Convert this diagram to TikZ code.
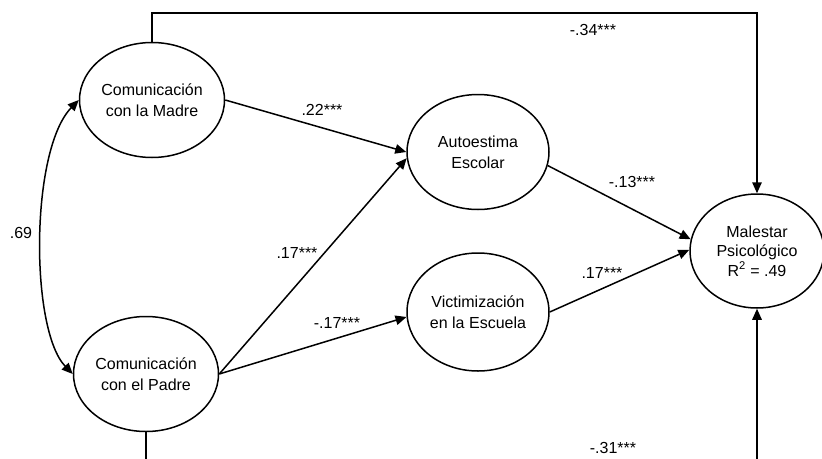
\documentclass[tikz,border=0pt]{standalone}
\usepackage{fontspec}
\setmainfont{Liberation Sans}
\usetikzlibrary{shapes.geometric,arrows.meta}
\begin{document}
\begin{tikzpicture}[x=1pt,y=-1pt,
  var/.style={ellipse,draw,line width=1.5pt,inner sep=0pt,align=center,font=\fontsize{16}{21}\selectfont},
  arr/.style={line width=1.5pt,-{Triangle[length=11pt,width=9.5pt]}},
  darr/.style={line width=1.5pt,{Triangle[length=11pt,width=9.5pt]}-{Triangle[length=11pt,width=9.5pt]}},
  plain/.style={line width=1.5pt},
  lbl/.style={font=\fontsize{16}{19}\selectfont,inner sep=0pt}]
\useasboundingbox (0,0) rectangle (822,458);
% variables
\node[var,minimum width=145pt,minimum height=115pt] (madre) at (152,100) {Comunicación\\con la Madre};
\node[var,minimum width=145pt,minimum height=115pt] (padre) at (146,374) {Comunicación\\con el Padre};
\node[var,minimum width=142pt,minimum height=115pt] (auto) at (478,152) {Autoestima\\Escolar};
\node[var,minimum width=142pt,minimum height=118pt] (victim) at (478,312) {Victimización\\en la Escuela};
\node[var,minimum width=134pt,minimum height=114pt,font=\fontsize{16}{19.5}\selectfont] (mal) at (757,251) {Malestar\\Psicológico\\R\textsuperscript{2} = .49};
% helper coordinates
\coordinate (top) at (450,13);
\coordinate (bot) at (450,460);
\coordinate (c1) at (30,150);
\coordinate (c2) at (30,330);
% paths
\draw[arr] (madre.north) |- (top) -| (mal.north);
\draw[plain] (padre.south) -- (padre.south |- bot);
\draw[arr] (mal.south |- bot) -- (mal.south);
\draw[arr] (madre.east) -- (auto.west);
\draw[arr] (padre.east) -- (auto.185);
\draw[arr] (padre.east) -- (victim.184);
\draw[arr] (auto.-11) -- (mal.170);
\draw[arr] (victim.east) -- (mal.179);
\draw[darr] (madre.west) .. controls (c1) and (c2) .. (padre.west);
% labels
\node[lbl] (l1) at (322,110) {.22***};
\node[lbl] (l2) at (593,30) {-.34***};
\node[lbl] (l3) at (632,182) {-.13***};
\node[lbl] (l4) at (602,273) {.17***};
\node[lbl] (l5) at (613,448) {-.31***};
\node[lbl] (l6) at (297,253) {.17***};
\node[lbl] (l7) at (337,323) {-.17***};
\node[lbl] (l8) at (21,233) {.69};
\end{tikzpicture}
\end{document}
